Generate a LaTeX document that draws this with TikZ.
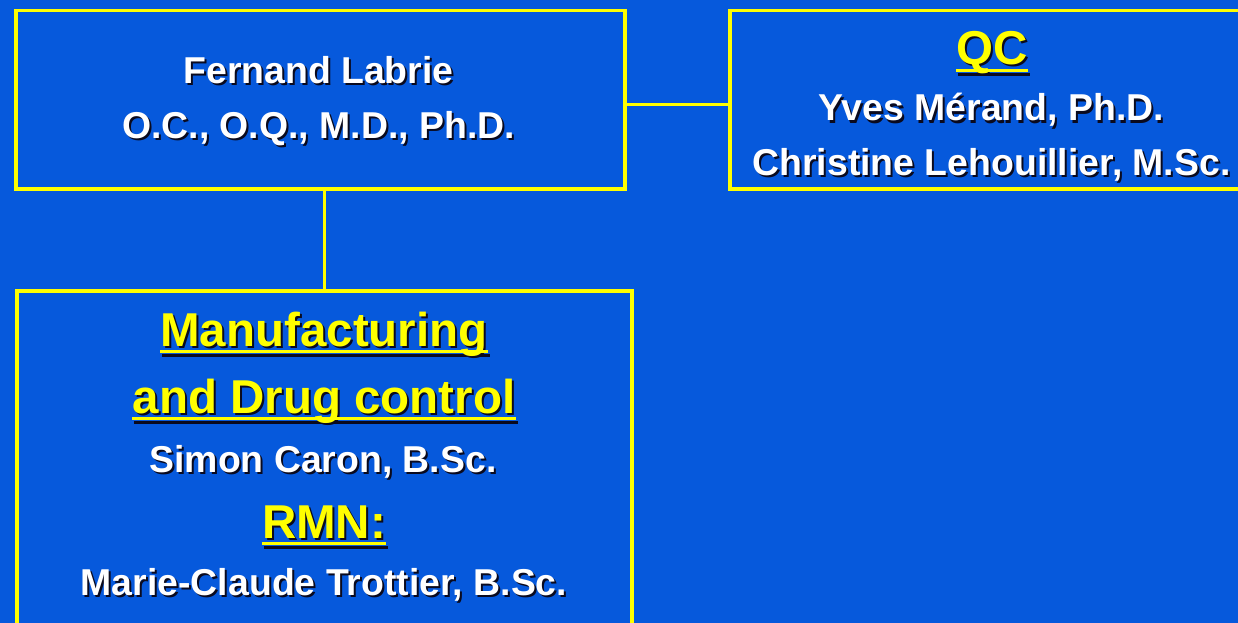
\documentclass[tikz,border=0pt]{standalone}
\usepackage{fontspec}
\setmainfont{Liberation Sans}
\definecolor{bg}{RGB}{6,89,220}
\definecolor{ylw}{RGB}{255,255,0}
\definecolor{shd}{RGB}{10,10,30}
\tikzset{
  box/.style={draw=ylw, line width=3.5pt, fill=bg, inner sep=0pt},
  link/.style={draw=ylw, line width=3.5pt},
  txt/.style={inner sep=0pt, anchor=base, font=\fontsize{37.4}{40}\selectfont\bfseries, text=white},
  head/.style={inner sep=0pt, anchor=base, font=\fontsize{47.5}{50}\selectfont\bfseries, text=ylw},
}
% plain line with shadow: name, x, y(baseline, down), text
\newcommand\plainline[4]{%
  \node[txt, text=shd] (#1s) at (#2pt+2pt, -#3pt-2pt) {#4};
  \node[txt] (#1) at (#2pt, -#3pt) {#4};}
% underlined heading with shadow
\newcommand\headline[4]{%
  \node[head, text=shd] (#1s) at (#2pt+2pt, -#3pt-2pt) {#4};
  \fill[shd] ([yshift=-6pt]#1s.base west) rectangle ([yshift=-9pt]#1s.base east);
  \node[head] (#1) at (#2pt, -#3pt) {#4};
  \fill[ylw] ([yshift=-4pt]#1.base west) rectangle ([yshift=-7pt]#1.base east);}
\begin{document}
\begin{tikzpicture}
\fill[bg] (0pt,0pt) rectangle (1238pt,-623pt);
\useasboundingbox (0pt,0pt) rectangle (1238pt,-623pt);
\begin{scope}
\clip (0pt,0pt) rectangle (1238pt,-623pt);
% boxes
\node[box, minimum width=609pt, minimum height=178pt, anchor=north west] (labrie) at (14pt,-9pt) {};
\node[box, minimum width=527pt, minimum height=178pt, anchor=north west] (qc) at (728pt,-9pt) {};
\node[box, minimum width=615pt, minimum height=345pt, anchor=north west] (manuf) at (15pt,-289pt) {};
% connectors
\draw[link] ([yshift=-5pt]labrie.east) -- ([yshift=-5pt]qc.west);
\draw[link] (labrie.south -| manuf.north) -- (manuf.north);
\end{scope}
% texts
\plainline{t1}{318.5}{84}{Fernand Labrie}
\plainline{t2}{318.5}{138}{O.C., O.Q., M.D., Ph.D.}
\headline{h1}{992}{65}{QC}
\plainline{t3}{991.5}{121}{Yves Mérand, Ph.D.}
\plainline{t4}{991.5}{175}{Christine Lehouillier, M.Sc.}
\headline{h2}{324}{346}{Manufacturing}
\headline{h3}{324}{413}{and Drug control}
\plainline{t5}{323}{472}{Simon Caron, B.Sc.}
\headline{h4}{324}{538}{RMN:}
\plainline{t6}{324}{595}{Marie-Claude Trottier, B.Sc.}
\end{tikzpicture}
\end{document}
